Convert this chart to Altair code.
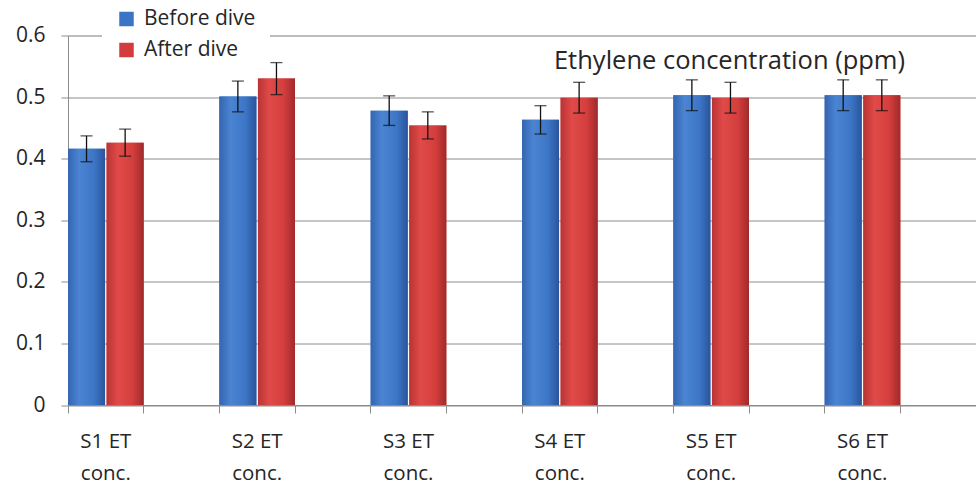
import altair as alt
import pandas as pd

categories = ["S1 ET conc.", "S2 ET conc.", "S3 ET conc.", "S4 ET conc.", "S5 ET conc.", "S6 ET conc."]
series = ["Before dive", "After dive"]
before_vals = [0.416, 0.501, 0.478, 0.463, 0.503, 0.503]
before_err = [0.021, 0.025, 0.024, 0.023, 0.025, 0.025]
after_vals = [0.426, 0.530, 0.454, 0.499, 0.499, 0.503]
after_err = [0.022, 0.026, 0.022, 0.025, 0.025, 0.025]
y_ticks = [0, 0.1, 0.2, 0.3, 0.4, 0.5, 0.6]

# spacer categories (the original chart leaves an empty slot after each group)
spacers = [" " * (i + 1) for i in range(len(categories))]
x_domain = []
for c, s in zip(categories, spacers):
    x_domain += [c, s]

rows = []
for i, c in enumerate(categories):
    rows.append({"cat": c, "series": series[0], "value": before_vals[i],
                 "lo": before_vals[i] - before_err[i], "hi": before_vals[i] + before_err[i]})
    rows.append({"cat": c, "series": series[1], "value": after_vals[i],
                 "lo": after_vals[i] - after_err[i], "hi": after_vals[i] + after_err[i]})
df = pd.DataFrame(rows)

FONT = "Open Sans"
TXT = "#262626"
GRID = "#8c8c8c"

x_enc = alt.X("cat:N", scale=alt.Scale(domain=x_domain, paddingInner=0, paddingOuter=0),
              sort=x_domain,
              axis=alt.Axis(title=None, labelAngle=0, bandPosition=0,
                            labelExpr="indexof(datum.label, 'S') == 0 ? [slice(datum.label, 0, 5), slice(datum.label, 6)] : ''",
                            labelFont=FONT, labelFontSize=20.5, labelColor=TXT,
                            labelLineHeight=32, labelPadding=18, labelBaseline="top",
                            tickSize=8, tickColor=GRID, domainColor=GRID, grid=False))
xo_enc = alt.XOffset("series:N", scale=alt.Scale(domain=series, paddingInner=0.04, paddingOuter=0))
y_enc = alt.Y("value:Q", scale=alt.Scale(domain=[0, 0.6], nice=False),
              axis=alt.Axis(title=None, values=y_ticks,
                            labelExpr="datum.value == 0 ? '0' : format(datum.value, '.1f')",
                            labelFont=FONT, labelFontSize=21, labelColor=TXT, labelPadding=16,
                            tickSize=7, tickColor=GRID, domainColor=GRID,
                            grid=True, gridColor=GRID, gridWidth=1))

base = alt.Chart(df)

legend_bars = base.mark_bar().encode(
    x=x_enc, xOffset=xo_enc, y=y_enc,
    color=alt.Color("series:N", scale=alt.Scale(domain=series, range=["#3b74c4", "#d23c3c"]),
                    legend=alt.Legend(title=None, orient="none", legendX=34, legendY=-41,
                                      fillColor="white", padding=14, rowPadding=9,
                                      symbolType="square", symbolSize=210, symbolStrokeWidth=0,
                                      labelFont=FONT, labelFontSize=21, labelColor=TXT,
                                      labelOffset=7)),
)

blue_grad = alt.Gradient(gradient="linear", x1=0, x2=1, y1=0, y2=0, stops=[
    alt.GradientStop(color="#3465b0", offset=0),
    alt.GradientStop(color="#4a84d2", offset=0.3),
    alt.GradientStop(color="#3d76c6", offset=0.7),
    alt.GradientStop(color="#2a549c", offset=1)])
red_grad = alt.Gradient(gradient="linear", x1=0, x2=1, y1=0, y2=0, stops=[
    alt.GradientStop(color="#b83434", offset=0),
    alt.GradientStop(color="#e04a48", offset=0.3),
    alt.GradientStop(color="#d43e3d", offset=0.7),
    alt.GradientStop(color="#a02a2a", offset=1)])

blue_bars = base.transform_filter(alt.datum.series == series[0]).mark_bar(color=blue_grad).encode(
    x=x_enc, xOffset=xo_enc, y=y_enc)
red_bars = base.transform_filter(alt.datum.series == series[1]).mark_bar(color=red_grad).encode(
    x=x_enc, xOffset=xo_enc, y=y_enc)

err_rule = base.mark_rule(color="#111111", strokeWidth=1.3).encode(
    x=x_enc, xOffset=xo_enc, y=alt.Y("lo:Q"), y2="hi:Q")
cap_hi = base.mark_tick(color="#111111", thickness=1.3, size=12, orient="horizontal").encode(
    x=x_enc, xOffset=xo_enc, y=alt.Y("hi:Q"))
cap_lo = base.mark_tick(color="#111111", thickness=1.3, size=12, orient="horizontal").encode(
    x=x_enc, xOffset=xo_enc, y=alt.Y("lo:Q"))

chart = alt.layer(legend_bars, blue_bars, red_bars, err_rule, cap_hi, cap_lo).properties(
    width=908, height=369.5,
    autosize=alt.AutoSizeParams(type="none"),
    padding={"left": 68, "top": 35.5, "right": 0, "bottom": 83},
    title=alt.TitleParams("Ethylene concentration (ppm)", anchor="end", frame="group",
                          font=FONT, fontSize=25.5, fontWeight="normal", color=TXT,
                          dx=-71, dy=84),
).configure_view(stroke=None).configure(background="white")

chart.save("out.html", embed_options={"renderer": "svg", "actions": False})
